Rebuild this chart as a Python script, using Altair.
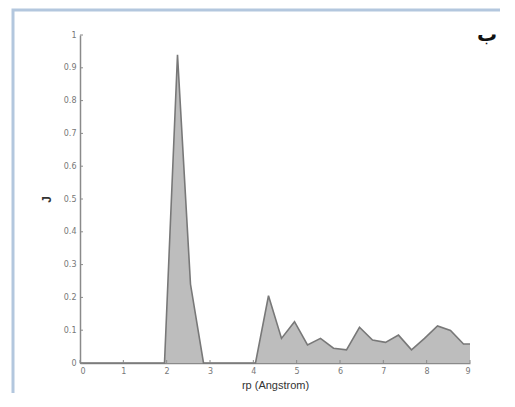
import altair as alt
import pandas as pd

# data
r_vals = [0.0, 1.95, 2.25, 2.55, 2.85, 4.05, 4.35, 4.65, 4.95, 5.25, 5.55, 5.85, 6.15,
          6.45, 6.75, 7.05, 7.35, 7.65, 7.95, 8.25, 8.55, 8.85, 9.0]
j_vals = [0.0, 0.0, 0.94, 0.24, 0.0, 0.0, 0.205, 0.075, 0.126, 0.055, 0.075, 0.045, 0.04,
          0.109, 0.07, 0.063, 0.085, 0.04, 0.075, 0.113, 0.099, 0.058, 0.058]
y_ticks = [0.0, 0.1, 0.2, 0.3, 0.4, 0.5, 0.6, 0.7, 0.8, 0.9, 1.0]
x_ticks = [0, 1, 2, 3, 4, 5, 6, 7, 8, 9]

df = pd.DataFrame({"r": r_vals, "J": j_vals})
yt = pd.DataFrame({"v": y_ticks})
xt = pd.DataFrame({"v": x_ticks})

W, H = 390, 328
xs = alt.Scale(domain=[0, 9], nice=False, zero=False)
ys = alt.Scale(domain=[0, 1], nice=False)

lab_font = "DejaVu Sans"

x_axis = alt.Axis(values=x_ticks, format="d", title="rp (Angstrom)", grid=False,
                  domainColor="#8a8a8a", domainWidth=1.5, tickSize=0, labelPadding=4,
                  labelFontSize=8, labelColor="#777", labelFont=lab_font, labelOverlap=False,
                  titleFont="Liberation Sans", titleFontSize=11, titleFontWeight="normal",
                  titleColor="#333", titlePadding=4)
y_axis = alt.Axis(values=y_ticks, title="J", grid=False,
                  domainColor="#8a8a8a", domainWidth=1.5, tickSize=0, labelPadding=4,
                  labelFontSize=8, labelColor="#777", labelFont=lab_font, labelOverlap=False,
                  labelExpr="datum.value == 0 ? '0' : datum.value == 1 ? '1' : format(datum.value, '.1f')",
                  titleFont="Liberation Sans", titleFontSize=12, titleFontWeight="bold",
                  titleColor="#333", titlePadding=10)

area = alt.Chart(df).mark_area(color="#bdbdbd", opacity=1, fillOpacity=1,
                               line={"color": "#787878", "strokeWidth": 1.6}).encode(
    x=alt.X("r:Q", scale=xs, axis=x_axis),
    y=alt.Y("J:Q", scale=ys, axis=y_axis),
)

ytick = alt.Chart(yt).mark_rule(color="#8a8a8a", strokeWidth=1).encode(
    y=alt.Y("v:Q", scale=ys, axis=y_axis), x=alt.value(0), x2=alt.value(3))
xtick = alt.Chart(xt).mark_rule(color="#8a8a8a", strokeWidth=1).encode(
    x=alt.X("v:Q", scale=xs, axis=x_axis), y=alt.value(H), y2=alt.value(H - 3))

frame = alt.Chart(pd.DataFrame({"a": [0]})).mark_rect(
    fill=None, stroke="#b3c7de", strokeWidth=3).encode(
    x=alt.value(-67), x2=alt.value(W + 60), y=alt.value(-25), y2=alt.value(H + 60))

label = alt.Chart(pd.DataFrame({"t": ["ب"]})).mark_text(
    fontSize=20, fontWeight="bold", font="DejaVu Sans", color="#111", align="center",
    baseline="middle").encode(
    text="t:N", x=alt.value(407), y=alt.value(0))

chart = alt.layer(frame, area, ytick, xtick, label).properties(
    width=W, height=H,
    padding={"left": 72, "top": 27, "right": 30, "bottom": 30},
    autosize=alt.AutoSizeParams(type="none"),
    background="white",
).configure_view(stroke=None)

chart.save("out.html", embed_options={"renderer": "svg", "actions": False})
